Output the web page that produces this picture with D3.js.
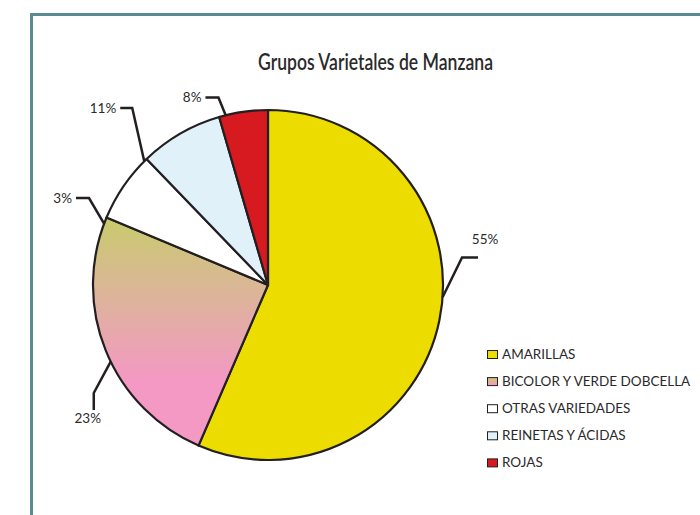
<!DOCTYPE html>
<html>
<head>
<meta charset="utf-8">
<script src="https://cdn.jsdelivr.net/npm/d3@7"></script>
<style>
  body { margin: 0; background: #fff; }
  svg { display: block; }
</style>
</head>
<body>
<div id="pie-chart"></div>
<script>
// data
const categories = ["AMARILLAS", "BICOLOR Y VERDE DOBCELLA", "OTRAS VARIEDADES", "REINETAS Y ÁCIDAS", "ROJAS"];
const shares = [56.5, 24.8, 6.5, 7.7, 4.5];          // slice sizes as drawn
const pctLabels = ["55%", "23%", "3%", "11%", "8%"];   // percentages printed next to the pie
const colors = ["#eddc00", "url(#bicolor)", "#ffffff", "#e1f1fa", "#d71920"];

// leader line layout (angles in degrees clockwise from 12 o'clock)
const leaderLayout = [
  { a: 94,  ea: 81.9,  er: 196, tx: 16, ty: 0,  side: "up" },
  { a: 244, ea: 238.2, er: 205, tx: 0,  ty: 17, side: "down" },
  { a: 290.5, ea: 295.9, er: 199, tx: -13, ty: 0, side: "left" },
  { a: 315, ea: 322.5, er: 223, tx: -12, ty: 0, side: "left" },
  { a: 346, ea: 345.2, er: 194, tx: -13, ty: 0, side: "left" }
];

const width = 700, height = 515;
const cx = 268, cy = 285, radius = 175;
const ink = "#231f20";

const svg = d3.select("#pie-chart")
  .append("svg")
  .attr("width", width)
  .attr("height", height);

const defs = svg.append("defs");
// gradient coordinates are in the pie group's space (origin at the centre)
const grad = defs.append("linearGradient")
  .attr("id", "bicolor")
  .attr("gradientUnits", "userSpaceOnUse")
  .attr("x1", 0).attr("x2", 0)
  .attr("y1", -radius * 0.38)
  .attr("y2", radius * 0.55);
grad.append("stop").attr("offset", 0).attr("stop-color", "#c8cb6c");
grad.append("stop").attr("offset", 0.4).attr("stop-color", "#d9b894");
grad.append("stop").attr("offset", 1).attr("stop-color", "#f498c4");

const lgrad = defs.append("linearGradient")
  .attr("id", "bicolorKey")
  .attr("x1", 0).attr("x2", 0).attr("y1", 0).attr("y2", 1);
lgrad.append("stop").attr("offset", 0).attr("stop-color", "#c8cb6c");
lgrad.append("stop").attr("offset", 1).attr("stop-color", "#f498c4");

// frame
svg.append("rect")
  .attr("x", 31.5).attr("y", 14.5)
  .attr("width", 700).attr("height", 520)
  .attr("fill", "none")
  .attr("stroke", "#5b8b91")
  .attr("stroke-width", 3);

// title
svg.append("text")
  .attr("x", 258).attr("y", 70)
  .attr("font-family", "'Lato', 'DejaVu Sans', sans-serif")
  .attr("font-weight", 600)
  .attr("font-size", 22)
  .attr("fill", "#2b2a2b")
  .attr("textLength", 235)
  .attr("lengthAdjust", "spacingAndGlyphs")
  .text("Grupos Varietales de Manzana");

const pie = d3.pie()
  .sort(null)
  .value(d => d);

const arc = d3.arc()
  .innerRadius(0)
  .outerRadius(radius);

const g = svg.append("g")
  .attr("transform", `translate(${cx},${cy})`);

g.selectAll("path.slice")
  .data(pie(shares))
  .enter()
  .append("path")
  .attr("class", "slice")
  .attr("d", arc)
  .attr("fill", (d, i) => colors[i])
  .attr("stroke", ink)
  .attr("stroke-width", 2.2)
  .attr("stroke-linejoin", "round");

// leader lines + percentages
const polar = (deg, r) => {
  const t = deg * Math.PI / 180;
  return [r * Math.sin(t), -r * Math.cos(t)];
};

leaderLayout.forEach((l, i) => {
  const p0 = polar(l.a, radius);
  const p1 = polar(l.ea, l.er);
  const p2 = [p1[0] + l.tx, p1[1] + l.ty];
  g.append("path")
    .attr("d", d3.line()([p0, p1, p2]))
    .attr("fill", "none")
    .attr("stroke", ink)
    .attr("stroke-width", 2.5);

  const t = g.append("text")
    .attr("font-family", "'Lato', 'DejaVu Sans', sans-serif")
    .attr("font-size", 13.5)
    .attr("fill", "#2b2a2b")
    .text(pctLabels[i]);
  if (l.side === "up") {
    t.attr("x", p2[0] + 7).attr("y", p2[1] - 13).attr("text-anchor", "middle");
  } else if (l.side === "down") {
    t.attr("x", p2[0] - 6).attr("y", p2[1] + 13).attr("text-anchor", "middle");
  } else {
    t.attr("x", p2[0] - 4).attr("y", p2[1] + 5).attr("text-anchor", "end");
  }
});

// legend
const legend = svg.append("g")
  .attr("transform", "translate(487,358)");

const rows = legend.selectAll("g")
  .data(categories)
  .enter()
  .append("g")
  .attr("transform", (d, i) => `translate(0,${i * 27.1})`);

rows.append("rect")
  .attr("x", 0.5).attr("y", -7.5)
  .attr("width", 10).attr("height", 8)
  .attr("fill", (d, i) => i === 1 ? "url(#bicolorKey)" : colors[i])
  .attr("stroke", ink)
  .attr("stroke-width", 1);

rows.append("text")
  .attr("x", 15).attr("y", 0.5)
  .attr("font-family", "'Lato', 'DejaVu Sans', sans-serif")
  .attr("font-size", 13.5)
  .attr("fill", "#2b2a2b")
  .text(d => d);
</script>
</body>
</html>
